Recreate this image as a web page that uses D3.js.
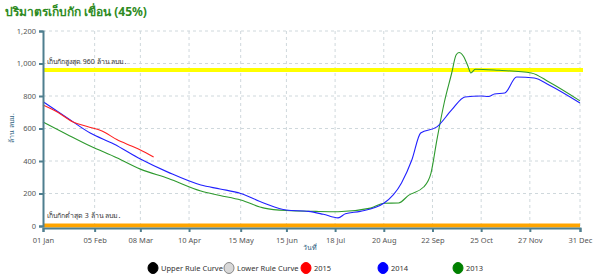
<!DOCTYPE html>
<html>
<head>
<meta charset="utf-8">
<script src="https://cdn.jsdelivr.net/npm/d3@7"></script>
<style>
  body { margin: 0; background: #fff; font-family: "Noto Sans", "DejaVu Sans", sans-serif; }
</style>
</head>
<body>
<div id="chart"></div>
<script>
// ticks on the day axis
var tickDays = [0, 35, 66, 99, 134, 165, 198, 231, 264, 297, 330, 364];
var tickLabels = ["01 Jan", "05 Feb", "08 Mar", "10 Apr", "15 May", "15 Jun", "18 Jul", "20 Aug", "22 Sep", "25 Oct", "27 Nov", "31 Dec"];
var yTicks = [0, 200, 400, 600, 800, 1000, 1200];

// [day, volume]
var s2015 = [[0,745],[10,700],[20,642],[30,612],[40,585],[50,532],[60,492],[66,468],[75,425]];
var s2014 = [[0,765],[16,668],[32,572],[48,505],[66,412],[85,330],[107,252],[120,228],[134,200],[150,140],[165,98],[180,90],[190,72],[200,50],[205,75],[215,90],[231,140],[243,265],[250,406],[256,572],[267,610],[277,714],[286,794],[297,800],[302,797],[306,812],[313,818],[321,917],[333,911],[343,868],[364,757]];
var s2013 = [[0,640],[16,565],[32,492],[50,420],[66,350],[85,292],[107,215],[120,188],[134,160],[150,110],[165,95],[185,90],[200,88],[222,110],[231,140],[241,142],[248,190],[258,240],[263,326],[267,530],[272,760],[277,940],[280,1052],[282,1068],[285,1045],[288,985],[290,942],[293,965],[309,958],[331,942],[343,886],[364,770]];

var maxStorage = 960, minStorage = 3;
var legendNames = ["Upper Rule Curve", "Lower Rule Curve", "2015", "2014", "2013"];
var legendColors = ["#000000", "#d8d8d8", "#ff0000", "#0000ff", "#008000"];

var svgWidth = 603, svgHeight = 277;
var margin = { top: 31, right: 23, bottom: 51, left: 43 };
var chartWidth = svgWidth - margin.left - margin.right;
var chartHeight = svgHeight - margin.top - margin.bottom;

var svg = d3.select("#chart").append("svg")
  .attr("width", svgWidth)
  .attr("height", svgHeight);

svg.append("text")
  .attr("x", 5).attr("y", 16)
  .attr("fill", "#2e8b22")
  .attr("font-size", 12)
  .attr("font-weight", "bold")
  .text("ปริมาตรเก็บกัก เขื่อน (45%)");

var chartGroup = svg.append("g")
  .attr("transform", `translate(${margin.left}, ${margin.top})`);

var xScale = d3.scaleLinear().domain([0, 364]).range([0, chartWidth]);
var yScale = d3.scaleLinear().domain([0, 1200]).range([chartHeight, 0]);

// grid
chartGroup.selectAll(".hgrid").data(yTicks.slice(1)).enter().append("line")
  .attr("x1", 0).attr("x2", chartWidth + 3)
  .attr("y1", d => yScale(d)).attr("y2", d => yScale(d))
  .attr("stroke", "#cfd8dc").attr("stroke-dasharray", "3,3");
chartGroup.selectAll(".vgrid").data(tickDays.slice(1)).enter().append("line")
  .attr("x1", d => xScale(d)).attr("x2", d => xScale(d))
  .attr("y1", 0).attr("y2", chartHeight)
  .attr("stroke", "#cfd8dc").attr("stroke-dasharray", "3,3");

// reference lines
chartGroup.append("line")
  .attr("x1", 0).attr("x2", chartWidth + 3)
  .attr("y1", yScale(maxStorage)).attr("y2", yScale(maxStorage))
  .attr("stroke", "#ffff00").attr("stroke-width", 4);
chartGroup.append("text")
  .attr("x", 4).attr("y", yScale(maxStorage) - 6)
  .attr("font-size", 7).attr("fill", "#333")
  .text("เก็บกักสูงสุด 960 ล้าน ลบม.");

chartGroup.append("line")
  .attr("x1", 0).attr("x2", chartWidth)
  .attr("y1", yScale(minStorage)).attr("y2", yScale(minStorage))
  .attr("stroke", "#ffa500").attr("stroke-width", 4);
chartGroup.append("text")
  .attr("x", 4).attr("y", yScale(minStorage) - 8)
  .attr("font-size", 7).attr("fill", "#333")
  .text("เก็บกักต่ำสุด 3 ล้าน ลบม.");

// series
var line = d3.line()
  .x(d => xScale(d[0]))
  .y(d => yScale(d[1]))
  .curve(d3.curveMonotoneX);

[[s2013, "#2e9a2e"], [s2014, "#2020ff"], [s2015, "#ff2020"]].forEach(function(s) {
  chartGroup.append("path")
    .datum(s[0])
    .attr("fill", "none")
    .attr("stroke", s[1])
    .attr("stroke-width", 1.1)
    .attr("d", line);
});

// axes
var yAxis = d3.axisLeft(yScale).tickValues(yTicks).tickSize(4).tickFormat(d3.format(","));
var xAxis = d3.axisBottom(xScale).tickValues(tickDays).tickSize(4)
  .tickFormat((d, i) => tickLabels[i]);

var gy = chartGroup.append("g").call(yAxis);
var gx = chartGroup.append("g").attr("transform", `translate(0, ${chartHeight + 2})`).call(xAxis);
[gx, gy].forEach(function(g) {
  g.select(".domain").attr("stroke", "#4f7f8f").attr("stroke-width", 2);
  g.selectAll(".tick line").attr("stroke", "#4f7f8f").attr("stroke-width", 2);
  g.selectAll("text").attr("fill", "#555").attr("font-size", 7.5)
    .attr("font-family", "'Noto Sans', sans-serif");
});
gx.selectAll("text").attr("dy", "1em");

svg.append("text")
  .attr("transform", "translate(14, 128) rotate(-90)")
  .attr("text-anchor", "middle")
  .attr("font-size", 7).attr("fill", "#2f5f7f")
  .text("ล้าน ลบม.");

svg.append("text")
  .attr("x", 310).attr("y", 250)
  .attr("text-anchor", "middle")
  .attr("font-size", 7).attr("fill", "#2f5f7f")
  .text("วันที่");

// legend
var legendX = [153, 229, 306, 383, 458];
var legend = svg.selectAll(".legend").data(legendNames).enter().append("g")
  .attr("transform", (d, i) => `translate(${legendX[i]}, 268)`);
legend.append("ellipse")
  .attr("rx", 5).attr("ry", 5.5)
  .attr("fill", (d, i) => legendColors[i])
  .attr("stroke", (d, i) => i === 1 ? "#888" : legendColors[i]);
legend.append("text")
  .attr("x", 8).attr("y", 3)
  .attr("font-size", 7.5).attr("fill", "#333")
  .text(d => d);
</script>
</body>
</html>
